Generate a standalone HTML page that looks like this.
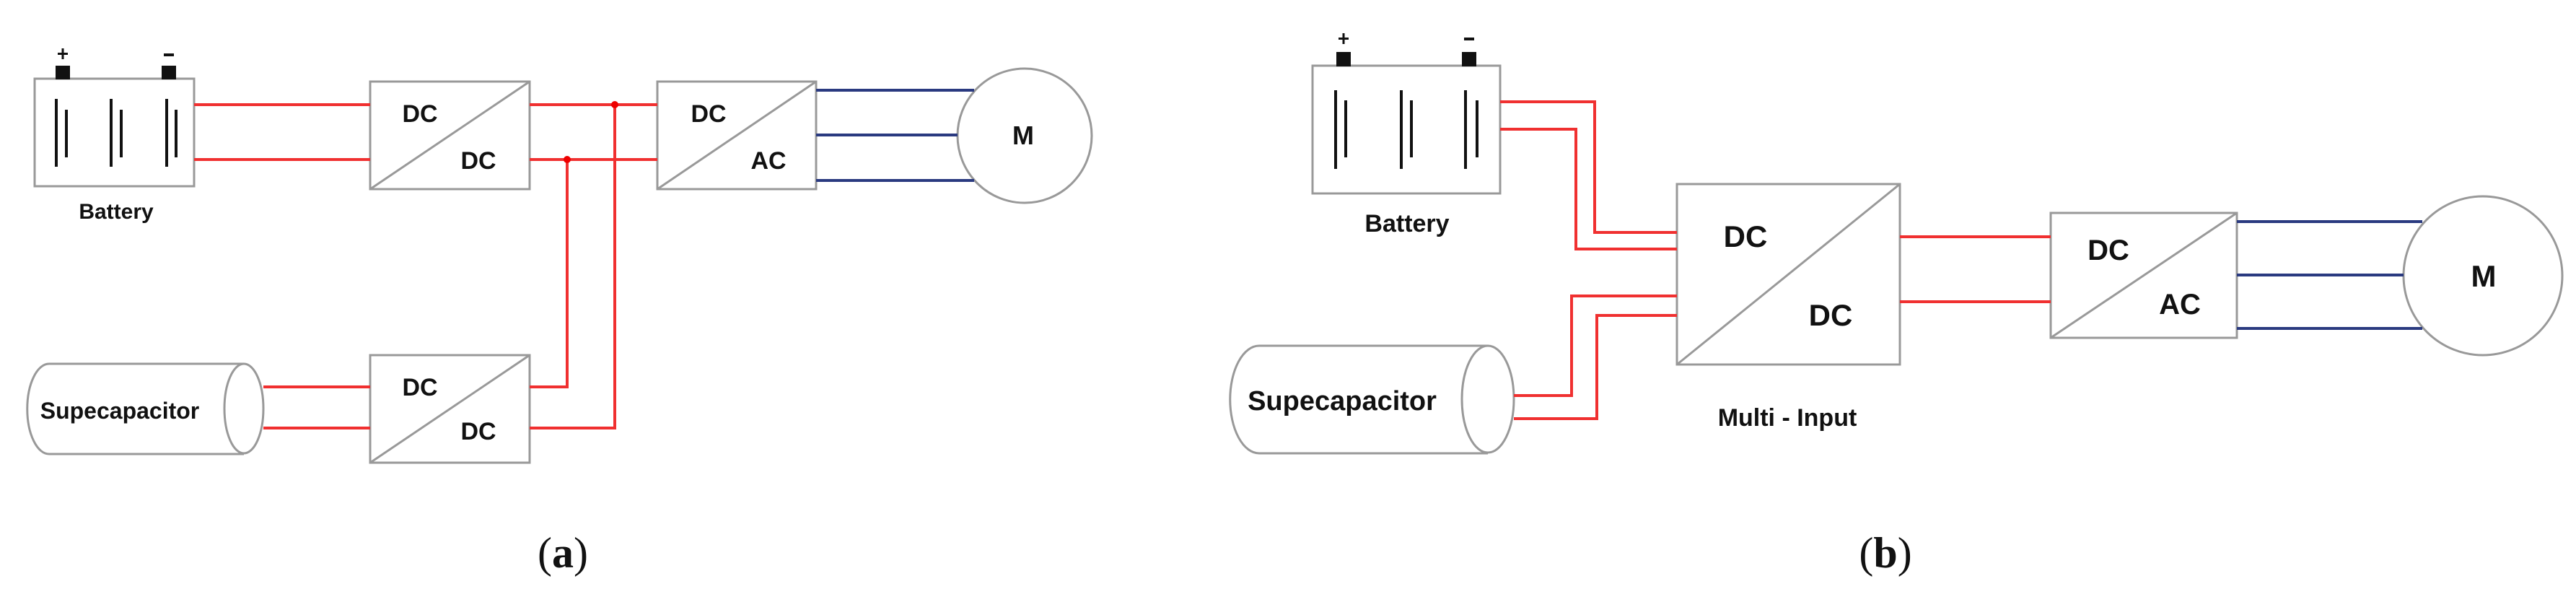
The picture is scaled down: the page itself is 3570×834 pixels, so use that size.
<!DOCTYPE html>
<html><head><meta charset="utf-8"><style>
html,body{margin:0;padding:0;background:#fff;}
svg{display:block;}
text{font-family:"Liberation Sans",sans-serif;font-weight:bold;fill:#111;}
</style></head><body>
<svg width="3570" height="834" viewBox="0 0 3570 834" xmlns="http://www.w3.org/2000/svg">
<g fill="none" stroke="#999" stroke-width="3">
<!-- (a) -->
<rect x="48" y="109" width="221" height="149"/>
<rect x="513" y="113" width="221" height="149"/>
<line x1="513" y1="262" x2="734" y2="113"/>
<rect x="911" y="113" width="220" height="149"/>
<line x1="911" y1="262" x2="1131" y2="113"/>
<circle cx="1420" cy="188" r="93"/>
<rect x="513" y="492" width="221" height="149"/>
<line x1="513" y1="641" x2="734" y2="492"/>
<path d="M338,504 H68 A30,62 0 0 0 68,629 H338"/>
<ellipse cx="338" cy="566" rx="27" ry="62"/>
<!-- (b) -->
<rect x="1819" y="91" width="260" height="177"/>
<rect x="2324" y="255" width="309" height="250"/>
<line x1="2324" y1="505" x2="2633" y2="255"/>
<rect x="2842" y="295" width="258" height="173"/>
<line x1="2842" y1="468" x2="3100" y2="295"/>
<circle cx="3441" cy="382" r="110"/>
<path d="M2062,479 H1745 A40,74 0 0 0 1745,628 H2062"/>
<ellipse cx="2062" cy="553" rx="36" ry="74"/>
</g>
<!-- battery cells -->
<g stroke="#111" stroke-width="4">
<line x1="78" y1="137" x2="78" y2="231"/><line x1="92" y1="152" x2="92" y2="218"/>
<line x1="154" y1="137" x2="154" y2="231"/><line x1="168" y1="152" x2="168" y2="218"/>
<line x1="231" y1="137" x2="231" y2="231"/><line x1="244" y1="152" x2="244" y2="218"/>
<line x1="1851" y1="125" x2="1851" y2="234"/><line x1="1865" y1="139" x2="1865" y2="218"/>
<line x1="1942" y1="125" x2="1942" y2="234"/><line x1="1956" y1="139" x2="1956" y2="218"/>
<line x1="2031" y1="125" x2="2031" y2="234"/><line x1="2047" y1="139" x2="2047" y2="218"/>
</g>
<g fill="#111">
<rect x="77" y="91" width="20" height="19"/><rect x="224" y="91" width="20" height="19"/>
<rect x="1852" y="72" width="20" height="20"/><rect x="2026" y="72" width="20" height="20"/>
<rect x="80" y="73" width="14" height="3"/><rect x="85.5" y="67" width="3" height="15"/>
<rect x="227" y="74" width="14" height="4"/>
<rect x="1855" y="52" width="14" height="3"/><rect x="1860.5" y="46" width="3" height="15"/>
<rect x="2029" y="52" width="14" height="4"/>
</g>
<!-- red wires -->
<g fill="none" stroke="#f03030" stroke-width="4">
<line x1="269" y1="145" x2="513" y2="145"/>
<line x1="269" y1="221" x2="513" y2="221"/>
<line x1="734" y1="145" x2="911" y2="145"/>
<line x1="734" y1="221" x2="911" y2="221"/>
<polyline points="734,536 786,536 786,221"/>
<polyline points="734,593 852,593 852,145"/>
<line x1="365" y1="536" x2="513" y2="536"/>
<line x1="365" y1="593" x2="513" y2="593"/>
<polyline points="2079,141 2210,141 2210,322 2324,322"/>
<polyline points="2079,179 2184,179 2184,345 2324,345"/>
<polyline points="2098,548 2178,548 2178,410 2324,410"/>
<polyline points="2098,580 2213,580 2213,437 2324,437"/>
<line x1="2633" y1="328" x2="2842" y2="328"/>
<line x1="2633" y1="418" x2="2842" y2="418"/>
</g>
<circle cx="852" cy="145" r="5" fill="#e00"/>
<circle cx="786" cy="221" r="5" fill="#e00"/>
<!-- blue wires -->
<g stroke="#2a3a80" stroke-width="4">
<line x1="1131" y1="125" x2="1350" y2="125"/>
<line x1="1131" y1="187" x2="1327" y2="187"/>
<line x1="1131" y1="250" x2="1350" y2="250"/>
<line x1="3100" y1="307" x2="3357" y2="307"/>
<line x1="3100" y1="381" x2="3331" y2="381"/>
<line x1="3100" y1="455" x2="3357" y2="455"/>
</g>
<!-- labels -->
<g text-anchor="middle">
<text x="161" y="303" font-size="30">Battery</text>
<text x="582" y="169" font-size="34">DC</text>
<text x="663" y="234" font-size="34">DC</text>
<text x="982" y="169" font-size="34">DC</text>
<text x="1065" y="234" font-size="34">AC</text>
<text x="1418" y="200" font-size="36">M</text>
<text x="582" y="548" font-size="34">DC</text>
<text x="663" y="609" font-size="34">DC</text>
<text x="166" y="580" font-size="32">Supecapacitor</text>
<text x="1950" y="321" font-size="34">Battery</text>
<text x="2419" y="342" font-size="42">DC</text>
<text x="2537" y="451" font-size="42">DC</text>
<text x="2477" y="590" font-size="34">Multi - Input</text>
<text x="2922" y="360" font-size="40">DC</text>
<text x="3021" y="435" font-size="40">AC</text>
<text x="3442" y="397" font-size="42">M</text>
<text x="1860" y="568" font-size="38">Supecapacitor</text>
</g>
<text x="780" y="786" font-size="60" text-anchor="middle" style="font-family:'Liberation Serif',serif;font-weight:normal">(<tspan font-weight="bold">a</tspan>)</text>
<text x="2613" y="786" font-size="60" text-anchor="middle" style="font-family:'Liberation Serif',serif;font-weight:normal">(<tspan font-weight="bold">b</tspan>)</text>
</svg>
</body></html>
